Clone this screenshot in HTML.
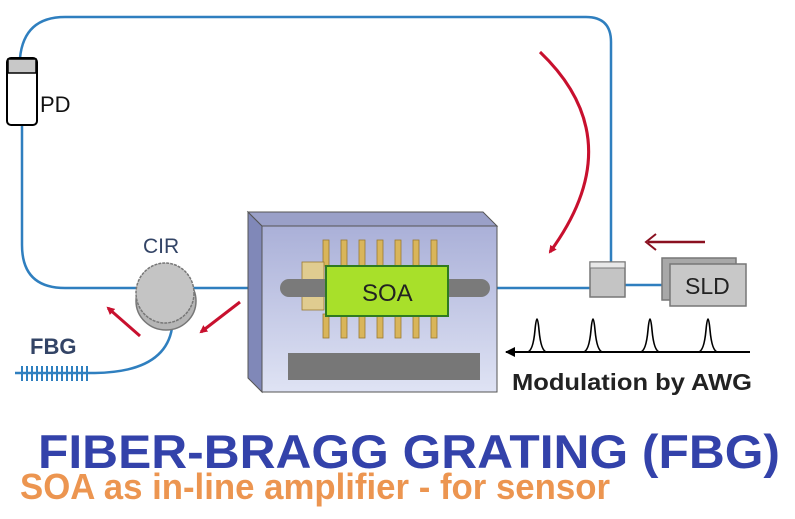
<!DOCTYPE html>
<html><head><meta charset="utf-8"><style>html,body{margin:0;padding:0;background:#fff}svg{display:block}</style></head>
<body>
<svg width="795" height="519" viewBox="0 0 795 519" xmlns="http://www.w3.org/2000/svg" font-family="Liberation Sans, sans-serif">
<defs>
<marker id="ar" markerWidth="8" markerHeight="8" refX="6" refY="4" orient="auto" markerUnits="userSpaceOnUse"><path d="M0,0 L8,4 L0,8 Z" fill="#c8102e"/></marker>
<marker id="ak" markerWidth="10" markerHeight="10" refX="9" refY="5" orient="auto" markerUnits="userSpaceOnUse"><path d="M0,0 L10,5 L0,10 Z" fill="#000"/></marker>
<linearGradient id="bx" x1="0" y1="0" x2="0" y2="1"><stop offset="0" stop-color="#aab0d8"/><stop offset="1" stop-color="#dfe3f4"/></linearGradient>
</defs>
<g fill="none" stroke="#2f7fbf" stroke-width="2.5">
<path d="M20,58 Q24,17 65,17 L586,17 Q611,17 611,42 L611,262"/>
<path d="M22,125 L22,245 Q22,288 65,288 L140,288"/>
<path d="M190,288 L590,288"/>
<path d="M625,285 L662,285"/>
<path d="M172,328 Q165,372 95,373"/>
</g>
<rect x="7" y="58" width="30" height="67" rx="4" fill="#fff" stroke="#000" stroke-width="2"/>
<rect x="8" y="59" width="28" height="14" fill="#c8c8c8" stroke="#000" stroke-width="1.5"/>
<text x="40" y="112" font-size="22" fill="#111">PD</text>
<text x="143" y="253" font-size="21" fill="#334466">CIR</text>
<ellipse cx="166" cy="301" rx="30" ry="29" fill="#b5b5b5" stroke="#777" stroke-width="1.5"/>
<ellipse cx="165" cy="293" rx="29" ry="30" fill="#c4c4c4" stroke="#777" stroke-width="1.5" stroke-dasharray="3,1"/>
<text x="30" y="354" font-size="22" font-weight="bold" fill="#334466">FBG</text>
<line x1="15" y1="373" x2="95" y2="373" stroke="#2f7fbf" stroke-width="2.5"/>
<g stroke="#2f7fbf" stroke-width="2">
<line x1="22" y1="366" x2="22" y2="381"/><line x1="27" y1="366" x2="27" y2="381"/><line x1="32" y1="366" x2="32" y2="381"/><line x1="37" y1="366" x2="37" y2="381"/><line x1="42" y1="366" x2="42" y2="381"/><line x1="47" y1="366" x2="47" y2="381"/><line x1="52" y1="366" x2="52" y2="381"/><line x1="57" y1="366" x2="57" y2="381"/><line x1="62" y1="366" x2="62" y2="381"/><line x1="67" y1="366" x2="67" y2="381"/><line x1="72" y1="366" x2="72" y2="381"/><line x1="77" y1="366" x2="77" y2="381"/><line x1="82" y1="366" x2="82" y2="381"/><line x1="87" y1="366" x2="87" y2="381"/>
</g>
<g stroke="#c8102e" stroke-width="3" fill="none">
<line x1="140" y1="336" x2="108" y2="308" marker-end="url(#ar)"/>
<line x1="240" y1="302" x2="201" y2="332" marker-end="url(#ar)"/>
<path d="M540,52 Q632,140 550,252" marker-end="url(#ar)"/>
</g>
<line x1="705" y1="242" x2="648" y2="242" stroke="#8a1020" stroke-width="2.5"/>
<path d="M656,234 L646,242 L656,250" fill="none" stroke="#8a1020" stroke-width="2"/>
<path d="M248,212 L262,226 L262,392 L248,378 Z" fill="#8088b8" stroke="#555" stroke-width="1"/>
<path d="M248,212 L483,212 L497,226 L262,226 Z" fill="#9aa0c8" stroke="#555" stroke-width="1"/>
<rect x="262" y="226" width="235" height="166" fill="url(#bx)" stroke="#555" stroke-width="1"/>
<g fill="#d9b55a" stroke="#9a7a30" stroke-width="0.8">
<rect x="323" y="240" width="6" height="26"/><rect x="341" y="240" width="6" height="26"/><rect x="359" y="240" width="6" height="26"/><rect x="377" y="240" width="6" height="26"/><rect x="395" y="240" width="6" height="26"/><rect x="413" y="240" width="6" height="26"/><rect x="431" y="240" width="6" height="26"/>
<rect x="323" y="314" width="6" height="24"/><rect x="341" y="314" width="6" height="24"/><rect x="359" y="314" width="6" height="24"/><rect x="377" y="314" width="6" height="24"/><rect x="395" y="314" width="6" height="24"/><rect x="413" y="314" width="6" height="24"/><rect x="431" y="314" width="6" height="24"/>
<rect x="302" y="262" width="22" height="48" fill="#e0cc90"/>
</g>
<rect x="280" y="279" width="210" height="18" rx="9" fill="#7a7a7a"/>
<rect x="326" y="266" width="122" height="50" fill="#a8e02a" stroke="#2f7a20" stroke-width="2"/>
<text x="362" y="301" font-size="24" fill="#222">SOA</text>
<rect x="288" y="353" width="192" height="27" fill="#777"/>
<rect x="590" y="262" width="35" height="35" fill="#c4c4c4" stroke="#777" stroke-width="1.5"/>
<rect x="590" y="262" width="35" height="6" fill="#e8e8e8" stroke="#777" stroke-width="1"/>
<rect x="662" y="258" width="74" height="42" fill="#a8a8a8" stroke="#777" stroke-width="1.5"/>
<rect x="670" y="264" width="76" height="42" fill="#c8c8c8" stroke="#777" stroke-width="1.5"/>
<text x="685" y="294" font-size="23" fill="#222">SLD</text>
<line x1="750" y1="352" x2="506" y2="352" stroke="#000" stroke-width="2" marker-end="url(#ak)"/>
<g fill="none" stroke="#000" stroke-width="1.6">
<path d="M527,352 Q533,352 535,330 Q537,308 539,330 Q541,352 547,352"/>
<path d="M583,352 Q589,352 591,330 Q593,308 595,330 Q597,352 603,352"/>
<path d="M640,352 Q646,352 648,330 Q650,308 652,330 Q654,352 660,352"/>
<path d="M698,352 Q704,352 706,330 Q708,308 710,330 Q712,352 718,352"/>
</g>
<text x="512" y="390" font-size="23" font-weight="bold" fill="#222" textLength="240" lengthAdjust="spacingAndGlyphs">Modulation by AWG</text>
<text x="38" y="468" font-size="47" font-weight="bold" fill="#3342aa" textLength="742" lengthAdjust="spacingAndGlyphs">FIBER-BRAGG GRATING (FBG)</text>
<text x="20" y="499" font-size="36" font-weight="bold" fill="#ec9550" textLength="590" lengthAdjust="spacingAndGlyphs">SOA as in-line amplifier - for sensor</text>
</svg>
</body></html>
